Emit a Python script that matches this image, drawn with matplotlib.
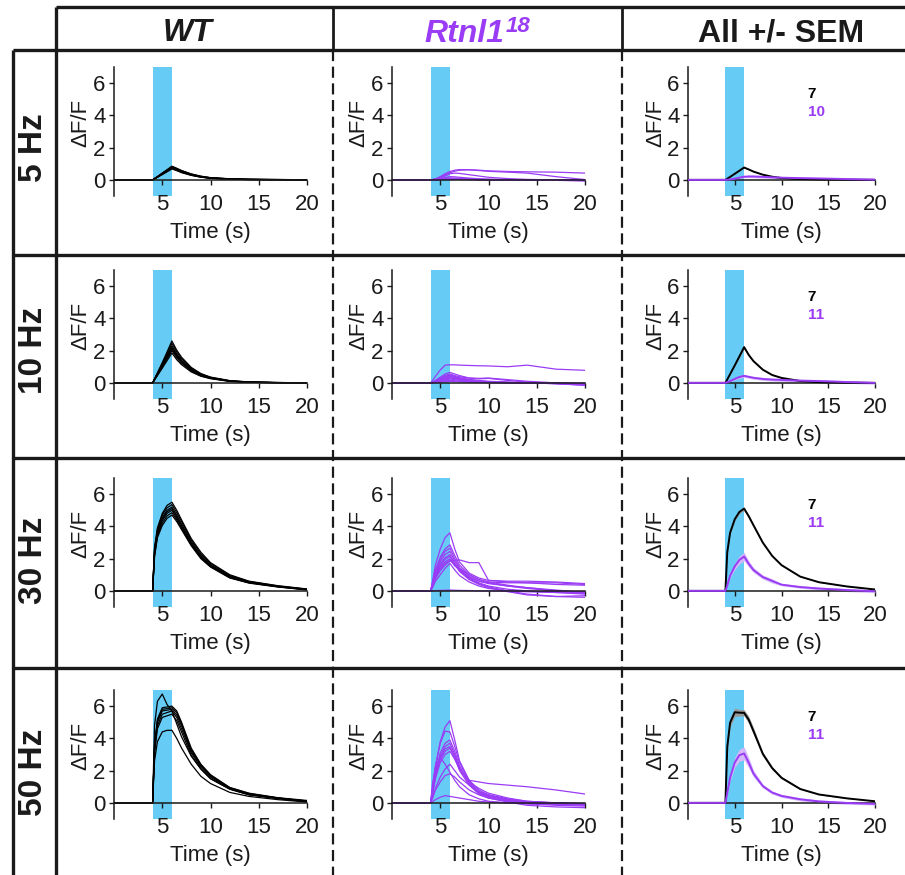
import numpy as np
import matplotlib
matplotlib.use("Agg")
import matplotlib.pyplot as plt

plt.rcParams["font.family"] = ["Liberation Sans", "DejaVu Sans"]

W, H = 905, 875
PURPLE = "#9a3cf5"
STIM = "#66ccf5"
INK = "#1a1a1a"

# time points (s) at which every trace is sampled
TIME = [0, 4, 4.2, 4.5, 5, 5.5, 6, 6.5, 7, 8, 9, 10, 12, 14, 17, 20]
STIM_ON, STIM_OFF = 4, 6

FREQ_LABELS = ["5 Hz", "10 Hz", "30 Hz", "50 Hz"]

# ---- WT single-animal traces (dF/F) ----
WT_5HZ = [
    [0, 0, 0.08, 0.20, 0.42, 0.63, 0.85, 0.72, 0.58, 0.36, 0.22, 0.13, 0.06, 0.03, 0.02, 0.00],
    [0, 0, 0.08, 0.19, 0.40, 0.60, 0.80, 0.67, 0.53, 0.33, 0.20, 0.12, 0.05, 0.03, 0.01, 0.00],
    [0, 0, 0.07, 0.18, 0.37, 0.56, 0.76, 0.63, 0.50, 0.31, 0.18, 0.10, 0.05, 0.02, 0.01, 0.00],
    [0, 0, 0.07, 0.17, 0.35, 0.53, 0.72, 0.60, 0.47, 0.29, 0.17, 0.10, 0.04, 0.02, 0.01, 0.00],
    [0, 0, 0.07, 0.17, 0.36, 0.55, 0.74, 0.62, 0.50, 0.32, 0.20, 0.12, 0.06, 0.03, 0.02, 0.01],
    [0, 0, 0.08, 0.20, 0.41, 0.61, 0.82, 0.70, 0.57, 0.37, 0.23, 0.14, 0.07, 0.04, 0.02, 0.01],
    [0, 0, 0.06, 0.16, 0.33, 0.50, 0.68, 0.57, 0.45, 0.28, 0.17, 0.10, 0.05, 0.02, 0.01, 0.00],
]
WT_10HZ = [
    [0, 0, 0.25, 0.62, 1.25, 1.92, 2.60, 2.03, 1.59, 0.96, 0.58, 0.36, 0.14, 0.06, 0.02, 0.00],
    [0, 0, 0.24, 0.60, 1.20, 1.82, 2.45, 1.91, 1.49, 0.91, 0.54, 0.34, 0.13, 0.05, 0.02, 0.01],
    [0, 0, 0.22, 0.56, 1.13, 1.72, 2.30, 1.79, 1.40, 0.85, 0.51, 0.32, 0.12, 0.05, 0.02, 0.00],
    [0, 0, 0.21, 0.54, 1.08, 1.64, 2.20, 1.72, 1.34, 0.81, 0.48, 0.31, 0.11, 0.04, 0.01, 0.00],
    [0, 0, 0.20, 0.51, 1.03, 1.56, 2.10, 1.64, 1.28, 0.78, 0.46, 0.29, 0.11, 0.04, 0.01, 0.00],
    [0, 0, 0.19, 0.49, 0.98, 1.49, 2.00, 1.56, 1.22, 0.74, 0.44, 0.28, 0.10, 0.04, 0.01, 0.00],
    [0, 0, 0.18, 0.45, 0.91, 1.38, 1.85, 1.44, 1.13, 0.68, 0.41, 0.26, 0.09, 0.04, 0.01, 0.00],
]
WT_30HZ = [
    [0, 0, 2.7, 3.9, 4.80, 5.30, 5.50, 5.00, 4.40, 3.25, 2.40, 1.75, 1.00, 0.60, 0.32, 0.12],
    [0, 0, 2.6, 3.8, 4.70, 5.15, 5.35, 4.85, 4.30, 3.15, 2.30, 1.70, 0.95, 0.58, 0.30, 0.10],
    [0, 0, 2.5, 3.7, 4.55, 5.00, 5.20, 4.70, 4.15, 3.05, 2.20, 1.62, 0.90, 0.55, 0.28, 0.10],
    [0, 0, 2.4, 3.6, 4.45, 4.90, 5.10, 4.60, 4.05, 2.95, 2.15, 1.58, 0.88, 0.53, 0.27, 0.08],
    [0, 0, 2.3, 3.5, 4.35, 4.80, 5.00, 4.50, 3.95, 2.90, 2.10, 1.55, 0.85, 0.52, 0.26, 0.08],
    [0, 0, 2.2, 3.4, 4.20, 4.65, 4.85, 4.40, 3.85, 2.85, 2.05, 1.50, 0.82, 0.50, 0.25, 0.07],
    [0, 0, 2.1, 3.3, 4.05, 4.50, 4.70, 4.30, 3.80, 2.80, 2.00, 1.48, 0.80, 0.48, 0.24, 0.06],
]
WT_50HZ = [
    [0, 0, 4.8, 6.3, 6.75, 6.10, 5.70, 4.90, 4.10, 2.90, 2.10, 1.50, 0.85, 0.50, 0.30, 0.10],
    [0, 0, 3.6, 5.2, 5.90, 5.95, 6.00, 5.70, 5.00, 3.40, 2.40, 1.75, 0.95, 0.60, 0.32, 0.15],
    [0, 0, 3.5, 5.1, 5.80, 5.85, 5.90, 5.60, 4.90, 3.30, 2.35, 1.70, 0.95, 0.58, 0.30, 0.12],
    [0, 0, 3.4, 5.0, 5.70, 5.75, 5.80, 5.45, 4.80, 3.20, 2.30, 1.65, 0.90, 0.55, 0.30, 0.10],
    [0, 0, 3.3, 4.8, 5.50, 5.60, 5.70, 5.30, 4.60, 3.10, 2.20, 1.60, 0.88, 0.52, 0.28, 0.10],
    [0, 0, 3.1, 4.6, 5.30, 5.40, 5.50, 5.10, 4.40, 2.95, 2.10, 1.50, 0.85, 0.50, 0.26, 0.08],
    [0, 0, 2.6, 3.8, 4.40, 4.50, 4.50, 4.00, 3.40, 2.40, 1.65, 1.20, 0.65, 0.40, 0.20, 0.05],
]

# ---- Rtnl1 single-animal traces (dF/F) ----
RT_5HZ = [
    [0, 0, 0.02, 0.06, 0.20, 0.38, 0.52, 0.60, 0.64, 0.63, 0.60, 0.56, 0.52, 0.50, 0.48, 0.42],
    [0, 0, 0.02, 0.05, 0.16, 0.30, 0.44, 0.54, 0.60, 0.62, 0.58, 0.53, 0.48, 0.42, 0.20, 0.02],
    [0, 0, 0.02, 0.04, 0.12, 0.24, 0.38, 0.42, 0.40, 0.32, 0.24, 0.16, 0.08, 0.03, 0.00, -0.04],
    [0, 0, 0.01, 0.03, 0.08, 0.14, 0.20, 0.19, 0.16, 0.11, 0.07, 0.05, 0.02, 0.00, -0.02, -0.05],
    [0, 0, 0.01, 0.02, 0.05, 0.09, 0.12, 0.11, 0.09, 0.06, 0.04, 0.02, 0.00, -0.01, -0.03, -0.05],
    [0, 0, 0.01, 0.02, 0.04, 0.06, 0.08, 0.07, 0.06, 0.04, 0.02, 0.01, 0.00, -0.02, -0.03, -0.04],
    [0, 0, 0.00, 0.01, 0.03, 0.05, 0.06, 0.06, 0.05, 0.03, 0.02, 0.01, 0.00, -0.01, -0.02, -0.03],
    [0, 0, 0.00, 0.01, 0.02, 0.04, 0.05, 0.04, 0.03, 0.02, 0.01, 0.00, -0.01, -0.02, -0.03, -0.04],
    [0, 0, 0.01, 0.02, 0.03, 0.05, 0.07, 0.06, 0.05, 0.03, 0.02, 0.01, 0.00, 0.00, -0.01, -0.02],
    [0, 0, 0.00, 0.01, 0.02, 0.03, 0.04, 0.03, 0.03, 0.02, 0.01, 0.00, 0.00, -0.01, -0.02, -0.03],
]
RT_10HZ = [
    [0, 0, 0.15, 0.40, 0.80, 1.10, 1.12, 1.12, 1.10, 1.08, 1.06, 1.05, 1.00, 1.10, 0.85, 0.78],
    [0, 0, 0.05, 0.15, 0.35, 0.55, 0.65, 0.55, 0.45, 0.30, 0.25, 0.28, 0.15, 0.05, -0.05, -0.15],
    [0, 0, 0.05, 0.12, 0.30, 0.45, 0.55, 0.45, 0.38, 0.30, 0.28, 0.30, 0.20, 0.10, 0.00, -0.10],
    [0, 0, 0.04, 0.10, 0.25, 0.40, 0.50, 0.40, 0.32, 0.22, 0.15, 0.10, 0.05, 0.00, -0.05, -0.10],
    [0, 0, 0.04, 0.10, 0.22, 0.35, 0.45, 0.35, 0.28, 0.18, 0.12, 0.08, 0.03, 0.00, -0.05, -0.15],
    [0, 0, 0.03, 0.08, 0.20, 0.30, 0.40, 0.32, 0.25, 0.15, 0.10, 0.06, 0.02, 0.00, -0.03, -0.08],
    [0, 0, 0.03, 0.07, 0.16, 0.25, 0.33, 0.27, 0.20, 0.13, 0.08, 0.05, 0.02, 0.00, -0.02, -0.05],
    [0, 0, 0.02, 0.06, 0.14, 0.22, 0.30, 0.24, 0.18, 0.12, 0.08, 0.05, 0.02, 0.00, -0.02, -0.06],
    [0, 0, 0.02, 0.05, 0.12, 0.18, 0.24, 0.20, 0.15, 0.10, 0.06, 0.04, 0.02, 0.00, -0.02, -0.04],
    [0, 0, 0.01, 0.03, 0.08, 0.12, 0.16, 0.13, 0.10, 0.07, 0.04, 0.02, 0.00, -0.01, -0.03, -0.05],
    [0, 0, 0.01, 0.02, 0.05, 0.08, 0.10, 0.08, 0.06, 0.04, 0.02, 0.01, 0.00, -0.01, -0.02, -0.03],
]
RT_30HZ = [
    [0, 0, 0.60, 1.60, 2.60, 3.30, 3.60, 2.60, 1.80, 1.10, 0.80, 0.65, 0.60, 0.60, 0.55, 0.45],
    [0, 0, 0.50, 1.30, 2.10, 2.60, 2.85, 2.20, 1.60, 1.00, 0.70, 0.55, 0.50, 0.50, 0.50, 0.40],
    [0, 0, 0.45, 1.20, 1.95, 2.45, 2.65, 2.00, 1.45, 0.90, 0.60, 0.45, 0.30, 0.20, 0.00, -0.15],
    [0, 0, 0.40, 1.10, 1.80, 2.25, 2.45, 1.85, 1.35, 0.80, 0.50, 0.30, 0.10, 0.00, -0.10, -0.20],
    [0, 0, 0.35, 1.00, 1.65, 2.05, 2.25, 1.70, 1.25, 0.75, 0.45, 0.25, 0.00, -0.20, -0.35, -0.40],
    [0, 0, 0.35, 0.95, 1.55, 1.95, 2.15, 1.65, 1.20, 0.70, 0.40, 0.20, -0.05, -0.25, -0.35, -0.30],
    [0, 0, 0.30, 0.90, 1.45, 1.80, 2.00, 1.55, 1.30, 0.85, 0.60, 0.50, 0.30, 0.15, 0.00, -0.10],
    [0, 0, 0.30, 0.85, 1.35, 1.70, 1.90, 1.60, 1.40, 1.00, 0.70, 0.55, 0.35, 0.20, 0.05, -0.10],
    [0, 0, 0.25, 0.75, 1.25, 1.60, 1.85, 1.90, 1.92, 1.75, 1.75, 0.65, 0.55, 0.50, 0.40, 0.35],
    [0, 0, 0.20, 0.60, 1.00, 1.40, 1.70, 1.30, 0.95, 0.55, 0.30, 0.15, 0.00, -0.05, -0.10, -0.15],
    [0, 0, 0.01, 0.02, 0.03, 0.04, 0.05, 0.04, 0.03, 0.02, 0.00, 0.00, -0.02, -0.04, -0.05, -0.05],
]
RT_50HZ = [
    [0, 0, 0.80, 2.20, 3.80, 4.70, 5.10, 3.90, 2.60, 1.40, 0.80, 0.50, 0.20, 0.05, -0.05, -0.10],
    [0, 0, 0.90, 2.30, 3.70, 4.45, 4.40, 3.50, 2.50, 1.30, 0.70, 0.45, 0.20, 0.05, 0.00, -0.05],
    [0, 0, 0.70, 1.90, 3.10, 3.70, 3.90, 3.20, 2.30, 1.20, 0.65, 0.40, 0.15, 0.00, -0.10, -0.15],
    [0, 0, 0.70, 1.80, 2.90, 3.50, 3.70, 3.00, 2.20, 1.15, 0.60, 0.35, 0.10, -0.05, -0.15, -0.20],
    [0, 0, 0.60, 1.70, 2.80, 3.35, 3.50, 2.90, 2.10, 1.30, 0.90, 0.60, 0.30, 0.10, 0.00, -0.10],
    [0, 0, 0.60, 1.60, 2.70, 3.20, 3.40, 2.80, 2.00, 1.10, 0.55, 0.30, 0.05, -0.15, -0.25, -0.30],
    [0, 0, 0.55, 1.50, 2.50, 3.00, 3.20, 2.70, 2.10, 1.40, 1.30, 1.20, 1.10, 1.00, 0.80, 0.55],
    [0, 0, 1.20, 2.20, 2.80, 2.40, 1.90, 1.40, 1.00, 0.50, 0.25, 0.10, 0.00, -0.05, -0.10, -0.10],
    [0, 0, 0.30, 0.80, 1.30, 1.70, 1.80, 1.60, 1.30, 0.80, 0.50, 0.30, 0.10, 0.00, -0.10, -0.10],
    [0, 0, 0.08, 0.20, 0.35, 0.45, 0.40, 0.35, 0.30, 0.20, 0.10, 0.05, 0.00, -0.05, -0.10, -0.10],
    [0, 0, 0.30, 0.90, 1.60, 2.10, 2.40, 2.00, 1.60, 1.10, 0.70, 0.50, 0.25, 0.10, 0.00, -0.05],
]

WT_ROWS = [WT_5HZ, WT_10HZ, WT_30HZ, WT_50HZ]
RT_ROWS = [RT_5HZ, RT_10HZ, RT_30HZ, RT_50HZ]

# layout in pixels (panel placement in the table)
COL_LEFT = [114, 392, 688]
COL_WIDTH = [193, 193, 187]
ROW_TOP = [67, 270, 478, 690]
ROW_HEIGHT = 129
ROW_LINES = [255, 458, 668]
ROW_LABEL_Y = [148, 350, 560, 772]


def fig_rect(left, top, width, height):
    return [left / W, 1 - (top + height) / H, width / W, height / H]


def style_axes(ax):
    ax.set_facecolor("none")
    ax.axvspan(STIM_ON, STIM_OFF, color=STIM, lw=0, zorder=0)
    ax.set_xlim(0, 20)
    ax.set_ylim(-1, 7)
    ax.set_xticks([5, 10, 15, 20])
    ax.set_yticks([0, 2, 4, 6])
    for side in ["top", "right"]:
        ax.spines[side].set_visible(False)
    ax.spines["bottom"].set_position(("data", 0))
    for side in ["left", "bottom"]:
        ax.spines[side].set_linewidth(1.1)
        ax.spines[side].set_color(INK)
    ax.tick_params(axis="both", direction="out", length=3.6, width=1.0,
                   colors=INK, labelsize=16)
    ax.tick_params(axis="x", pad=6.5)
    ax.tick_params(axis="y", pad=2.5)
    ax.set_xlabel("Time (s)", fontsize=16, color=INK, va="top")
    ax.xaxis.set_label_coords(0.5, -0.2)
    ax.set_ylabel("ΔF/F", fontsize=16, color=INK)
    ax.yaxis.set_label_coords(-0.115, 0.57)


def draw_traces(ax, traces, color):
    for tr in traces:
        ax.plot(TIME, tr, color=color, lw=0.9, zorder=2)


def draw_mean(ax, traces, color, shade):
    arr = np.array(traces)
    mean = arr.mean(axis=0)
    sem = arr.std(axis=0, ddof=1) / np.sqrt(len(traces))
    ax.fill_between(TIME, mean - sem, mean + sem, color=shade, lw=0, zorder=2)
    ax.plot(TIME, mean, color=color, lw=1.4, zorder=3)


fig = plt.figure(figsize=(W / 100, H / 100), dpi=100)

# table frame drawn in pixel coordinates
frame = fig.add_axes([0, 0, 1, 1])
frame.set_xlim(0, W)
frame.set_ylim(H, 0)
frame.axis("off")
thick = dict(color=INK, lw=2.4, solid_capstyle="butt")
frame.plot([56, W], [7, 7], **thick)
frame.plot([13, W], [50, 50], **thick)
frame.plot([56, 56], [7, H], **thick)
frame.plot([13, 13], [50, H], **thick)
for y in ROW_LINES:
    frame.plot([13, W], [y, y], **thick)
for x in [333, 622]:
    frame.plot([x, x], [7, 50], color=INK, lw=2.0, solid_capstyle="butt")
    frame.plot([x, x], [50, H], color=INK, lw=1.6, dashes=(5, 2.5))

# column headers
frame.text(188, 41, "WT", fontsize=23, fontweight="bold", fontstyle="italic",
           ha="center", va="baseline", color=INK)
frame.text(504, 42, "Rtnl1", fontsize=23, fontweight="bold", fontstyle="italic",
           ha="right", va="baseline", color=PURPLE)
frame.text(506, 32, "18", fontsize=16, fontweight="bold", fontstyle="italic",
           ha="left", va="baseline", color=PURPLE)
frame.text(781, 42, "All +/- SEM", fontsize=23, fontweight="bold",
           ha="center", va="baseline", color=INK)

for i, label in enumerate(FREQ_LABELS):
    frame.text(33, ROW_LABEL_Y[i], label, fontsize=24, fontweight="bold",
               rotation=90, ha="center", va="center", color=INK)

for i in range(4):
    axes = [fig.add_axes(fig_rect(COL_LEFT[j], ROW_TOP[i], COL_WIDTH[j], ROW_HEIGHT))
            for j in range(3)]
    for ax in axes:
        style_axes(ax)
    draw_traces(axes[0], WT_ROWS[i], "black")
    draw_traces(axes[1], RT_ROWS[i], PURPLE)
    draw_mean(axes[2], WT_ROWS[i], "black", "#9a9a9a")
    draw_mean(axes[2], RT_ROWS[i], PURPLE, "#d4b8fb")
    axes[2].text(12.8, 5.3, str(len(WT_ROWS[i])), fontsize=11, fontweight="bold",
                 ha="left", va="center", color="black")
    axes[2].text(12.8, 4.2, str(len(RT_ROWS[i])), fontsize=11, fontweight="bold",
                 ha="left", va="center", color=PURPLE)

fig.savefig("out.png", dpi=100)
